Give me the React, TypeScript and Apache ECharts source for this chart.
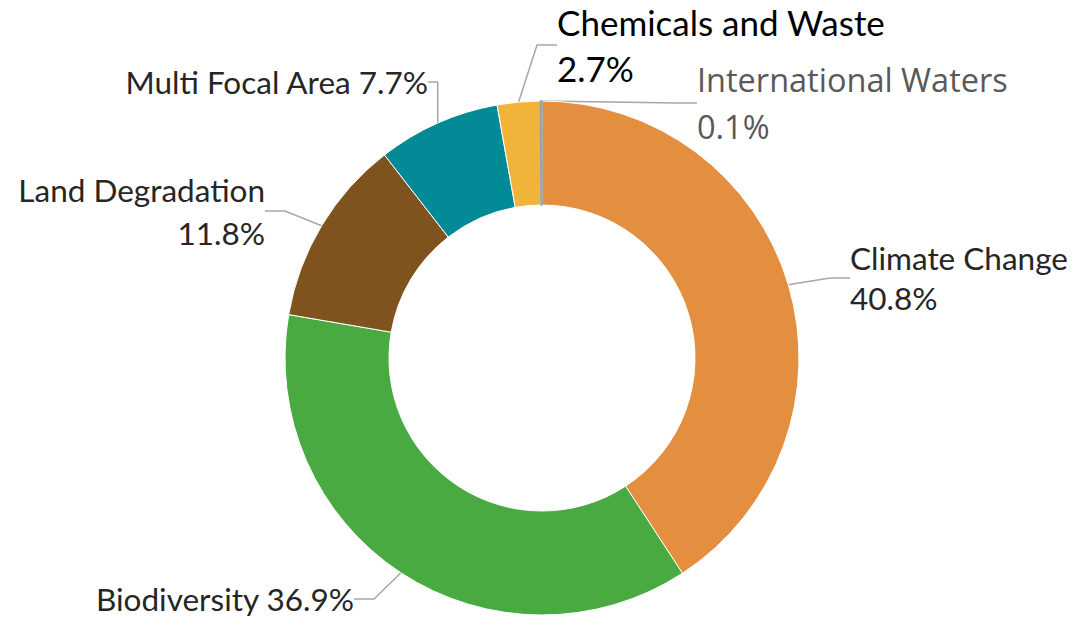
import React, { useEffect, useRef } from "react";
import * as echarts from "echarts";

const categories = [
  "Climate Change",
  "Biodiversity",
  "Land Degradation",
  "Multi Focal Area",
  "Chemicals and Waste",
  "International Waters",
];
const values = [40.8, 36.9, 11.8, 7.7, 2.7, 0.1];
const colors = ["#E48E3F", "#4AAA42", "#7E531E", "#028A96", "#F2B33A", "#9AA4A8"];
const twoLine = [true, false, true, false, true, true];
const textColors = ["#262626", "#262626", "#262626", "#262626", "#000000", "#595959"];
const fontSizes = [31.5, 31.5, 31.5, 31.5, 35, 32.5];
const lineHeights = [40, 34, 43, 34, 46, 47];
const fontFamilies = ["Lato", "Lato", "Lato", "Lato", "Lato", "'Open Sans'"];

// label anchor placements (x, y, align)
const labelPos: [number, number, string][] = [
  [850, 278, "left"],
  [354, 599, "right"],
  [265, 211, "right"],
  [428, 82, "right"],
  [557, 45, "left"],
  [697, 103, "left"],
];

export default function App() {
  const ref = useRef<HTMLDivElement>(null);
  useEffect(() => {
    const chart = echarts.init(ref.current!, null, { renderer: "svg" });
    const data = categories.map((name, i) => ({
      name,
      value: values[i],
      itemStyle: {
        color: colors[i],
        borderColor: i === 5 ? colors[5] : "#ffffff",
        borderWidth: i === 5 ? 1.5 : 1,
      },
      label: {
        formatter: twoLine[i] ? "{b}\n{c}%" : "{b} {c}%",
        color: textColors[i],
        fontSize: fontSizes[i],
        lineHeight: lineHeights[i],
        fontFamily: fontFamilies[i],
        overflow: "none",
        width: 600,
      },
    }));
    chart.setOption({
      animation: false,
      backgroundColor: "#ffffff",
      series: [
        {
          type: "pie",
          center: [542, 358],
          radius: [153, 257],
          startAngle: 90,
          clockwise: true,
          data,
          label: { show: true, overflow: "none" },
          labelLine: {
            show: true,
            length: 10,
            length2: 20,
            lineStyle: { color: "#A6A6A6", width: 1.5 },
          },
          labelLayout: (params: any) => {
            const p = labelPos[params.dataIndex];
            return { x: p[0], y: p[1], align: p[2], verticalAlign: "middle" };
          },
        },
      ],
    });
    return () => chart.dispose();
  }, []);
  return (
    <div
      ref={ref}
      style={{ position: "absolute", left: 0, top: 0, width: 1076, height: 619 }}
    />
  );
}
